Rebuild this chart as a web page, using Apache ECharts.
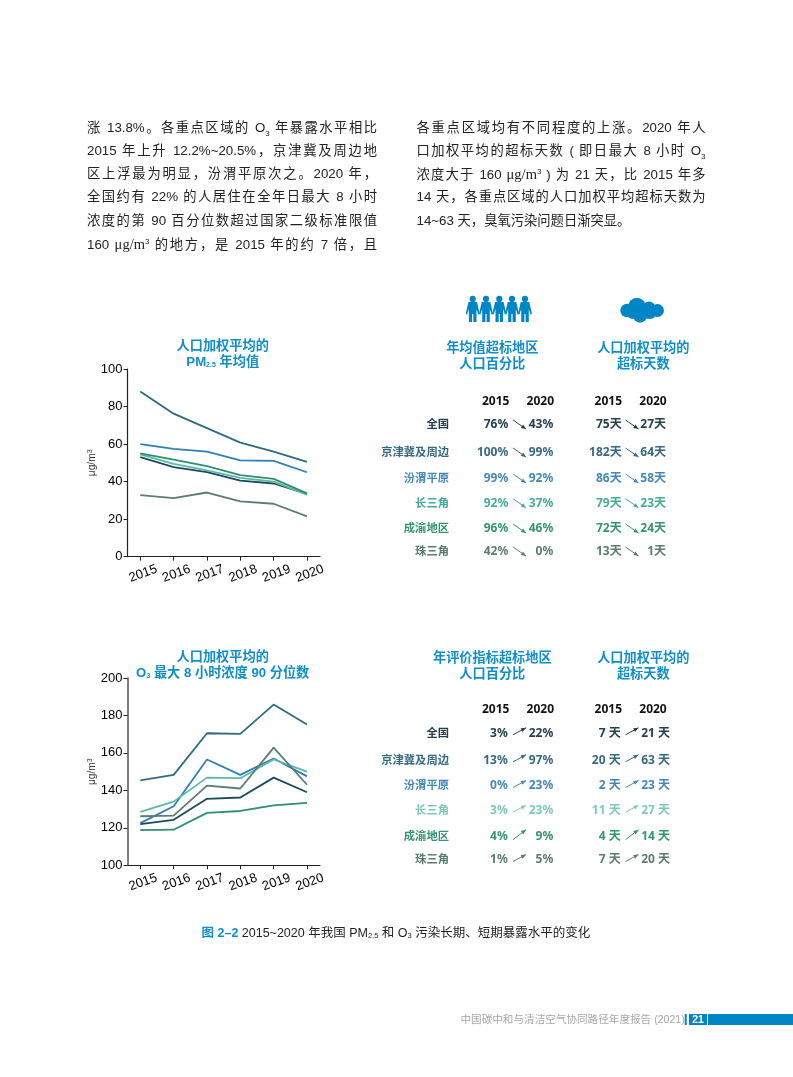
<!DOCTYPE html>
<html><head><meta charset="utf-8">
<script src="https://cdn.jsdelivr.net/npm/echarts@6/dist/echarts.min.js"></script>
<style>
html,body{margin:0;padding:0;background:#fff}
#page{position:relative;width:793px;height:1077px;overflow:hidden}
#chart{position:absolute;left:0;top:0;width:793px;height:1077px}
.ln{position:absolute;font:13.3px/18px "Liberation Sans","Noto Sans CJK SC",sans-serif;color:#222;text-align:justify;text-align-last:justify;text-justify:inter-character}
.ln.end{text-align-last:left}
.ln sub,.ln sup{font-size:8px;line-height:0}
.ln i{font-family:"Liberation Serif",serif;font-style:normal;font-size:14.5px}
</style></head><body>
<div id="page"><div id="chart"></div></div>
<script>
const years = [2015, 2016, 2017, 2018, 2019, 2020];
const regions = ['全国', '京津冀及周边', '汾渭平原', '长三角', '成渝地区', '珠三角'];
const lineColors = ['#1c4a5c', '#2e6b82', '#2f7fb2', '#5db8a9', '#2f8f6f', '#5b7d72'];
const rowColors1 = ['#24404e', '#376a80', '#4488b8', '#45aa9c', '#359373', '#5a7d70'];
const rowColors2 = ['#24404e', '#376a80', '#4488b8', '#7fc9bc', '#359373', '#5a7d70'];

const pm25National = [53, 47.7, 45, 40.5, 39, 33.5];
const pm25Jjj = [88, 76.2, 68.5, 60.8, 56, 50.5];
const pm25Fenwei = [60, 57.5, 56, 51.3, 51, 45];
const pm25Yrd = [54.5, 49.5, 46, 42, 40, 33];
const pm25Cy = [55, 51.7, 48.2, 43.5, 41.5, 33.7];
const pm25Prd = [32.8, 31.2, 34.2, 29.5, 28.2, 21.5];

const o3National = [122, 124.3, 135.5, 136.2, 146.8, 139];
const o3Jjj = [145.3, 148.3, 170.5, 170.2, 185.8, 175.2];
const o3Fenwei = [122.5, 131.5, 156.5, 148.3, 157, 147.5];
const o3Yrd = [128.5, 134, 146.8, 146.5, 156.5, 150];
const o3Cy = [118.8, 119, 128, 129, 132, 133.3];
const o3Prd = [126.2, 126.5, 142.5, 141, 162.8, 143];

const pm25Axis = [0, 20, 40, 60, 80, 100];
const o3Axis = [100, 120, 140, 160, 180, 200];

const t1Pct = [['76%','43%'],['100%','99%'],['99%','92%'],['92%','37%'],['96%','46%'],['42%','0%']];
const t1Days = [['75天','27天'],['182天','64天'],['86天','58天'],['79天','23天'],['72天','24天'],['13天','1天']];
const t2Pct = [['3%','22%'],['13%','97%'],['0%','23%'],['3%','23%'],['4%','9%'],['1%','5%']];
const t2Days = [['7 天','21 天'],['20 天','63 天'],['2 天','23 天'],['11 天','27 天'],['4 天','14 天'],['7 天','20 天']];

const paraLeft = [
 '涨 13.8%。各重点区域的 O<sub>3</sub> 年暴露水平相比',
 '2015 年上升 12.2%~20.5%，京津冀及周边地',
 '区上浮最为明显，汾渭平原次之。2020 年，',
 '全国约有 22% 的人居住在全年日最大 8 小时',
 '浓度的第 90 百分位数超过国家二级标准限值',
 '160 <i>μg/m</i><sup>3</sup> 的地方，是 2015 年的约 7 倍，且'];
const paraRight = [
 '各重点区域均有不同程度的上涨。2020 年人',
 '口加权平均的超标天数 ( 即日最大 8 小时 O<sub>3</sub>',
 '浓度大于 160 <i>μg/m</i><sup>3</sup> ) 为 21 天，比 2015 年多',
 '14 天，各重点区域的人口加权平均超标天数为',
 '14~63 天，臭氧污染问题日渐突显。'];

const page = document.getElementById('page');
const lineYs = [119, 142, 164.5, 188, 211.5, 235];
paraLeft.forEach((h,i)=>{const d=document.createElement('div');d.className='ln';d.style.cssText=`left:87px;top:${lineYs[i]}px;width:290px`;d.innerHTML=h;page.appendChild(d);});
paraRight.forEach((h,i)=>{const d=document.createElement('div');d.className='ln'+(i===4?' end':'');d.style.cssText=`left:416.5px;top:${lineYs[i]}px;width:289px`;d.innerHTML=h;page.appendChild(d);});

const SANS = '"Liberation Sans","Noto Sans CJK SC",sans-serif';
const TBL = '"Noto Sans","Noto Sans CJK SC",sans-serif';
const BLUE = '#0f8ecb';
const g = [];
function txt(x, y, text, o) {
  o = o || {};
  g.push({type:'text', x, y, silent:true, rotation:o.rotation||0, style:{text, fill:o.fill||'#333', fontFamily:o.family||TBL,
    fontSize:o.size||12, fontWeight:o.weight||'bold', align:o.align||'right', verticalAlign:'middle', rich:o.rich}});
}
function arrow(x1, y1, x2, y2, color) {
  g.push({type:'line', silent:true, shape:{x1,y1,x2,y2}, style:{stroke:color, lineWidth:1}});
  const a=Math.atan2(y2-y1,x2-x1), L=5, W=2.1;
  const bx=x2-L*Math.cos(a), by=y2-L*Math.sin(a), nx=-Math.sin(a)*W, ny=Math.cos(a)*W;
  g.push({type:'polygon', silent:true, shape:{points:[[x2,y2],[bx+nx,by+ny],[bx-nx,by-ny]]}, style:{fill:color}});
}
function title(cx, y, a, b) {
  const rich={s:{fontSize:7,fontFamily:SANS,fontWeight:'bold',fill:BLUE,verticalAlign:'bottom',padding:[5,0,0,0]}};
  txt(cx,y+1.3,a,{align:'center',fill:BLUE,size:13.2,family:SANS,rich});
  txt(cx,y+17.3,b,{align:'center',fill:BLUE,size:13.2,family:SANS,rich});
}
function table(headY, rowYs, pct, days, colors, up, xs) {
  [495.7,540.3,608.3,653].forEach((x,i)=>txt(x,headY+0.7,String(years[i%2?5:0]),{align:'center',fill:'#111'}));
  regions.forEach((r,i)=>{
    const y=rowYs[i], c=colors[i], n=y+0.8;
    txt(449,y,r,{fill:c,size:11.3,family:'"Noto Sans CJK SC",sans-serif'});
    txt(xs[0],n,pct[i][0],{fill:c});
    txt(553.3,n,pct[i][1],{fill:c});
    txt(xs[1],n,days[i][0],{fill:c});
    txt(xs[2],n,days[i][1],{fill:c});
    const dy = up ? (i===4?5:3.5) : 4.5, off = up? -1: 0.5;
    const d = up ? -1 : 1;
    arrow(513,y+off-d*dy,526,y+off+d*dy,c);
    arrow(625.5,y+off-d*dy,638.5,y+off+d*dy,c);
  });
}
title(222.7,345,'人口加权平均的','PM{s|2.5} 年均值');
title(222.7,656,'人口加权平均的','O{s|3} 最大 8 小时浓度 90 分位数');
title(492.3,346.7,'年均值超标地区','人口百分比');
title(643.3,346.7,'人口加权平均的','超标天数');
title(492.3,656.7,'年评价指标超标地区','人口百分比');
title(643.3,656.7,'人口加权平均的','超标天数');
table(400.7,[424,452,478,502.7,528,551],t1Pct,t1Days,rowColors1,false,[508.3,621.7,666]);
table(708.7,[732.3,759.3,785,809.7,835.7,859],t2Pct,t2Days,rowColors2,true,[507.7,620.7,670]);

// icons
const ICON='#0085c7';
[472.7,486,499.3,512,525].forEach(x=>{
  g.push({type:'circle',silent:true,shape:{cx:x,cy:298.9,r:3.1},style:{fill:ICON}});
  g.push({type:'polygon',silent:true,shape:{points:[[x-4.3,302],[x+4.3,302],[x+7,314],[x+5.6,314.6],[x+3.8,309],[x+3.8,322],[x+0.6,322],[x+0.6,314],[x-0.6,314],[x-0.6,322],[x-3.8,322],[x-3.8,309],[x-5.6,314.6],[x-7,314]]},style:{fill:ICON}});
});
[[627,310.5,6.7],[637,306.5,8.7],[649,308,6.5],[657.5,310.5,6.5],[640,315.5,7.2],[633,313,6],[650,313,6],[645,312,7]].forEach(c=>{
  g.push({type:'circle',silent:true,shape:{cx:c[0],cy:c[1],r:c[2]},style:{fill:ICON}});
});

// caption
txt(201.5,933.5,'{b|图 2–2} 2015~2020 年我国 PM{s|2.5} 和 O{s|3} 污染长期、短期暴露水平的变化',{align:'left',fill:'#222',size:12.5,family:SANS,weight:'normal',
  rich:{b:{fill:BLUE,fontWeight:'bold',fontSize:12.5,fontFamily:SANS},s:{fontSize:7.5,fontFamily:SANS,fill:'#222',verticalAlign:'bottom',padding:[5,0,0,0]}}});

// footer
txt(460.5,1020,'中国碳中和与清洁空气协同路径年度报告 (2021)',{align:'left',fill:'#a8a8a8',size:10.6,family:SANS,weight:'normal'});
[[684.7,2],[689,18],[708,85]].forEach(b=>g.push({type:'rect',silent:true,shape:{x:b[0],y:1014,width:b[1],height:11},style:{fill:'#0085c7'}}));
txt(698,1019.7,'21',{align:'center',fill:'#fff',size:10.5,family:SANS});

const AX='#222';
const pxPerYear=33.35;
const xMin=2015-12.8/pxPerYear, xMax=2020+13/pxPerYear;
function xAxis(i){return {type:'value',gridIndex:i,min:xMin,max:xMax,
  axisLine:{onZero:false,lineStyle:{color:AX,width:1.1}},
  axisTick:{show:true,length:4,lineStyle:{color:AX},customValues:years},
  splitLine:{show:false},
  axisLabel:{customValues:years,rotate:20,align:'center',verticalAlign:'middle',margin:18,padding:[0,0,0,6],color:'#000',fontFamily:SANS,fontSize:13,formatter:v=>String(v),showMinLabel:true,showMaxLabel:true}};}
function yAxis(i,ticks,w){return {type:'value',gridIndex:i,min:ticks[0],max:ticks[5],interval:20,
  axisLine:{show:true,lineStyle:{color:w>1.3?'#555':AX,width:w}},axisTick:{show:true,length:4,lineStyle:{color:AX}},splitLine:{show:false},
  axisLabel:{color:'#000',fontFamily:SANS,fontSize:13,margin:5},
  name:'μg/m{u|3}',nameLocation:'middle',nameRotate:90,nameGap:29,
  nameTextStyle:{color:'#333',fontFamily:SANS,fontSize:10.2,rich:{u:{fontSize:7,fontFamily:SANS,color:'#333',verticalAlign:'top',padding:[0,0,4,0]}}}};}
function ser(i,name,vals,c){return {type:'line',name,xAxisIndex:i,yAxisIndex:i,data:vals.map((v,k)=>[years[k],v]),symbol:'none',smooth:false,silent:true,animation:false,lineStyle:{color:c,width:1.8}};}
const pm=[pm25National,pm25Jjj,pm25Fenwei,pm25Yrd,pm25Cy,pm25Prd];
const o3=[o3National,o3Jjj,o3Fenwei,o3Yrd,o3Cy,o3Prd];
const series=[];
regions.forEach((r,i)=>series.push(ser(0,r,pm[i],lineColors[i])));
regions.forEach((r,i)=>series.push(ser(1,r,o3[i],lineColors[i])));

const chart=echarts.init(document.getElementById('chart'),null,{renderer:'canvas',width:793,height:1077});
chart.setOption({animation:false,backgroundColor:'transparent',
  grid:[{left:127.5,top:369,width:192.5,height:187.7,containLabel:false},{left:127.5,top:678,width:192.5,height:187.3,containLabel:false}],
  xAxis:[xAxis(0),xAxis(1)],
  yAxis:[yAxis(0,pm25Axis,1.2),yAxis(1,o3Axis,1.5)],
  series,graphic:{elements:g}});
</script>
</body></html>
